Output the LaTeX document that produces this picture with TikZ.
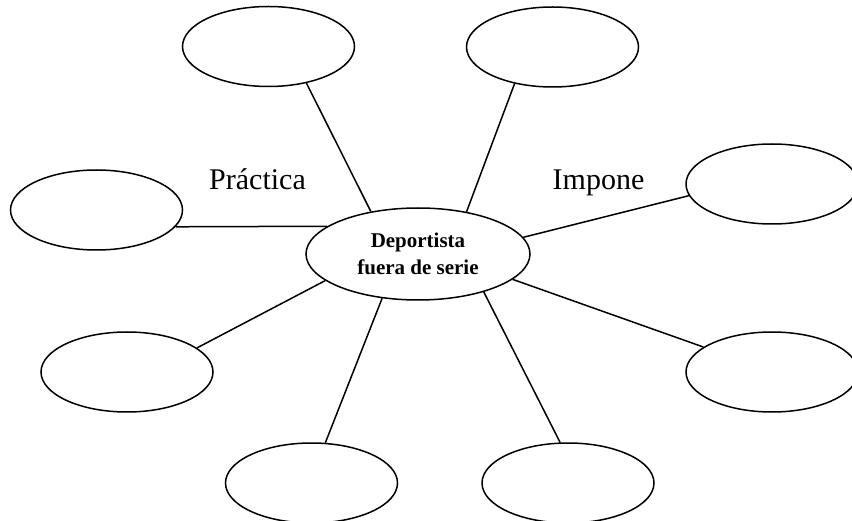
\documentclass[tikz,border=0pt]{standalone}
\usepackage{fontspec}
\setmainfont{Liberation Serif}
\usetikzlibrary{shapes.geometric}
\tikzset{% 
	idea/.style={ellipse, draw=black, fill=white,
		minimum width=172pt, minimum height=80pt, inner sep=0pt},
	centro/.style={ellipse, draw=black, fill=white,
		minimum width=224pt, minimum height=92pt, inner sep=0pt,
		font=\bfseries\fontsize{21}{27}\selectfont},
	rotulo/.style={anchor=base, font=\fontsize{30}{36}\selectfont},
}

\begin{document}
\begin{tikzpicture}[
    -,line width=1.5pt,x=1pt,y=1pt,
    every text node part/.style={align=center}]

    \useasboundingbox (0,0) rectangle (852,-521);

    \node [centro] (Centro) at (418,-254) {Deportista\\fuera de serie};

    \node [idea] (ArribaIzq) [left of = Centro, node distance=149.5pt, yshift=207.5pt] {};
    \node [idea] (ArribaDer) [right of = Centro, node distance=134.5pt, yshift=207pt] {};
    \node [idea] (Izq) [left of = Centro, node distance=321.5pt, yshift=44pt] {};
    \node [idea] (Der) [right of = Centro, node distance=354pt, yshift=70pt] {};
    \node [idea] (AbajoIzq) [left of = Centro, node distance=291pt, yshift=-118pt] {};
    \node [idea] (AbajoDer) [right of = Centro, node distance=354pt, yshift=-118pt] {};
    \node [idea] (BaseIzq) [left of = Centro, node distance=106.5pt, yshift=-229pt] {};
    \node [idea] (BaseDer) [right of = Centro, node distance=150pt, yshift=-229pt] {};

    \node [rotulo] (Practica) at (257.5,-190) {Práctica};
    \node [rotulo] (Impone) at (598.5,-190) {Impone};

    \path (Centro.138) edge[] (ArribaIzq.-44);
    \path (Centro.41) edge[] (ArribaDer.-136);
    \path (Centro.163) edge[] (Izq.-12);
    \path (Centro.9) edge[] (Der.-172);
    \path (Centro.-164) edge[] (AbajoIzq.19);
    \path (Centro.-15) edge[] (AbajoDer.160);
    \path (Centro.-129) edge[] (BaseIzq.71);
    \path (Centro.-30) edge[] (BaseDer.101);

    \end{tikzpicture}
\end{document}
